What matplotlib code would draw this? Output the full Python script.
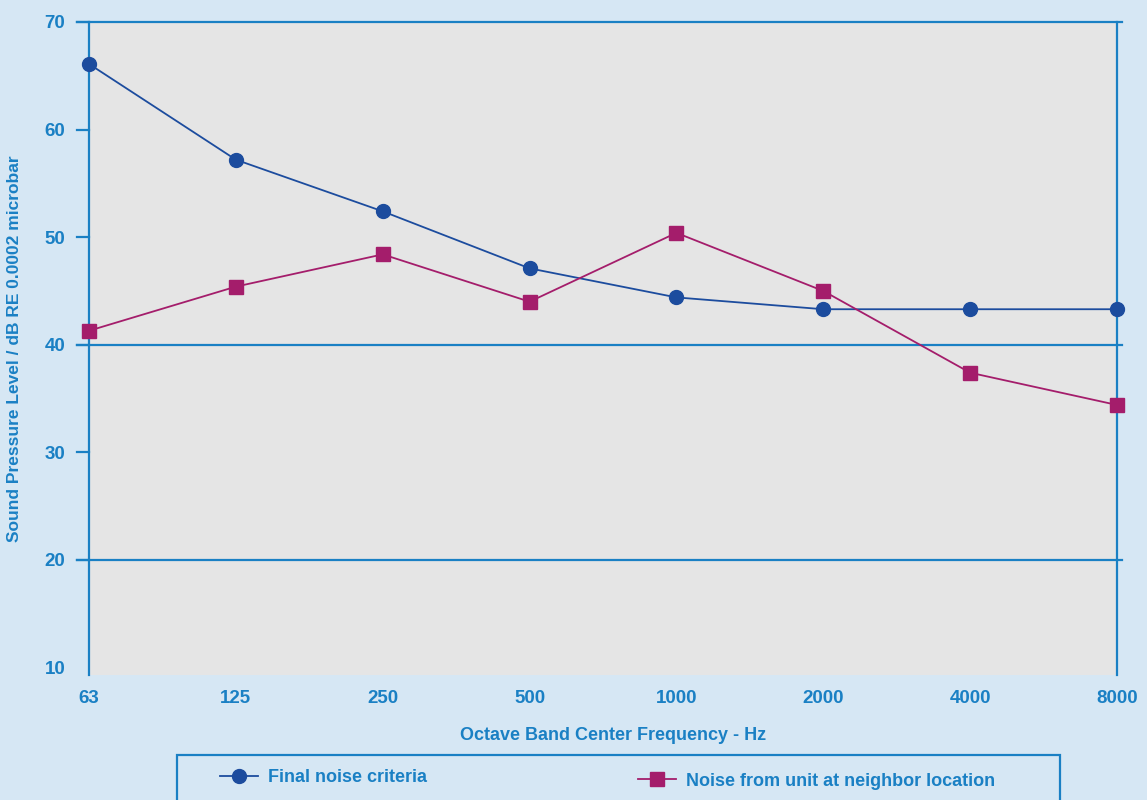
import matplotlib
matplotlib.use("Agg")
import matplotlib.pyplot as plt
from matplotlib.patches import Rectangle
import numpy as np

# data
freqs = ["63", "125", "250", "500", "1000", "2000", "4000", "8000"]
final_nc = [66.1, 57.2, 52.4, 47.1, 44.4, 43.3, 43.3, 43.3]
neighbor = [41.3, 45.4, 48.4, 44.0, 50.4, 45.0, 37.4, 34.4]
yticks = [10, 20, 30, 40, 50, 60, 70]
ref_lines = [20, 40, 70]

bg = "#d6e7f4"
panel = "#e5e5e5"
txt = "#1a80c4"
c_nc = "#1c4c9e"
c_nb = "#a41d6b"

plt.rcParams['font.family'] = ['Liberation Sans Narrow', 'Liberation Sans', 'DejaVu Sans']
plt.rcParams['font.weight'] = 'bold'
plt.rcParams['axes.labelweight'] = 'bold'

fig = plt.figure(figsize=(11.47, 8), dpi=100, facecolor=bg)
ax = fig.add_axes([89/1147, 1-675/800, (1117-89)/1147, (675-22)/800])
ax.set_facecolor(panel)

x = np.arange(len(freqs))
l1, = ax.plot(x, final_nc, color=c_nc, lw=1.3, marker='o', ms=10, clip_on=False, zorder=5,
              label="Final noise criteria")
l2, = ax.plot(x, neighbor, color=c_nb, lw=1.3, marker='s', ms=9.5, clip_on=False, zorder=5,
              label="Noise from unit at neighbor location")

ax.set_xlim(0, 7)
ax.set_ylim(9.3, 70)
ax.set_xticks(x)
ax.set_xticklabels(freqs)
ax.set_yticks(yticks)
ax.tick_params(axis='x', length=0, pad=11, labelsize=13.5, labelcolor=txt)
ax.tick_params(axis='y', length=0, pad=17, labelsize=13.5, labelcolor=txt)

for s in ['top', 'bottom']:
    ax.spines[s].set_visible(False)
for s in ['left', 'right']:
    ax.spines[s].set_color(txt)
    ax.spines[s].set_linewidth(1.6)

# tick marks on the left, and the full-width reference lines
tr = ax.get_yaxis_transform()
for v in yticks[1:]:
    ax.plot([-0.012, 0], [v, v], color=txt, lw=1.6, transform=tr, clip_on=False)
for v in ref_lines:
    ax.plot([-0.012, 1.005], [v, v], color=txt, lw=1.6, transform=tr, clip_on=False, zorder=3)

ax.set_xlabel("Octave Band Center Frequency - Hz", fontsize=13, color=txt)
ax.xaxis.set_label_coords(0.51, -0.079)
ax.set_ylabel("Sound Pressure Level / dB RE 0.0002 microbar", fontsize=12.5, color=txt)
ax.yaxis.set_label_coords(-0.065, 0.5)

# legend box, cut by the bottom edge
fig.patches.append(Rectangle((177/1147, -0.05), (1060-177)/1147, 0.05 + (800-755)/800,
                             transform=fig.transFigure, fill=False, edgecolor=txt, lw=1.6))
leg_kw = dict(loc='center left', frameon=False, fontsize=13, handlelength=2.1,
              handletextpad=0.55, borderpad=0, borderaxespad=0)
leg1 = fig.legend(handles=[l1], bbox_to_anchor=(220/1147, 1-778/800), **leg_kw)
leg2 = fig.legend(handles=[l2], bbox_to_anchor=(638/1147, 1-781/800), **leg_kw)
for lg in (leg1, leg2):
    for t in lg.get_texts():
        t.set_color(txt)

fig.savefig("out.png", dpi=100, facecolor=bg)
